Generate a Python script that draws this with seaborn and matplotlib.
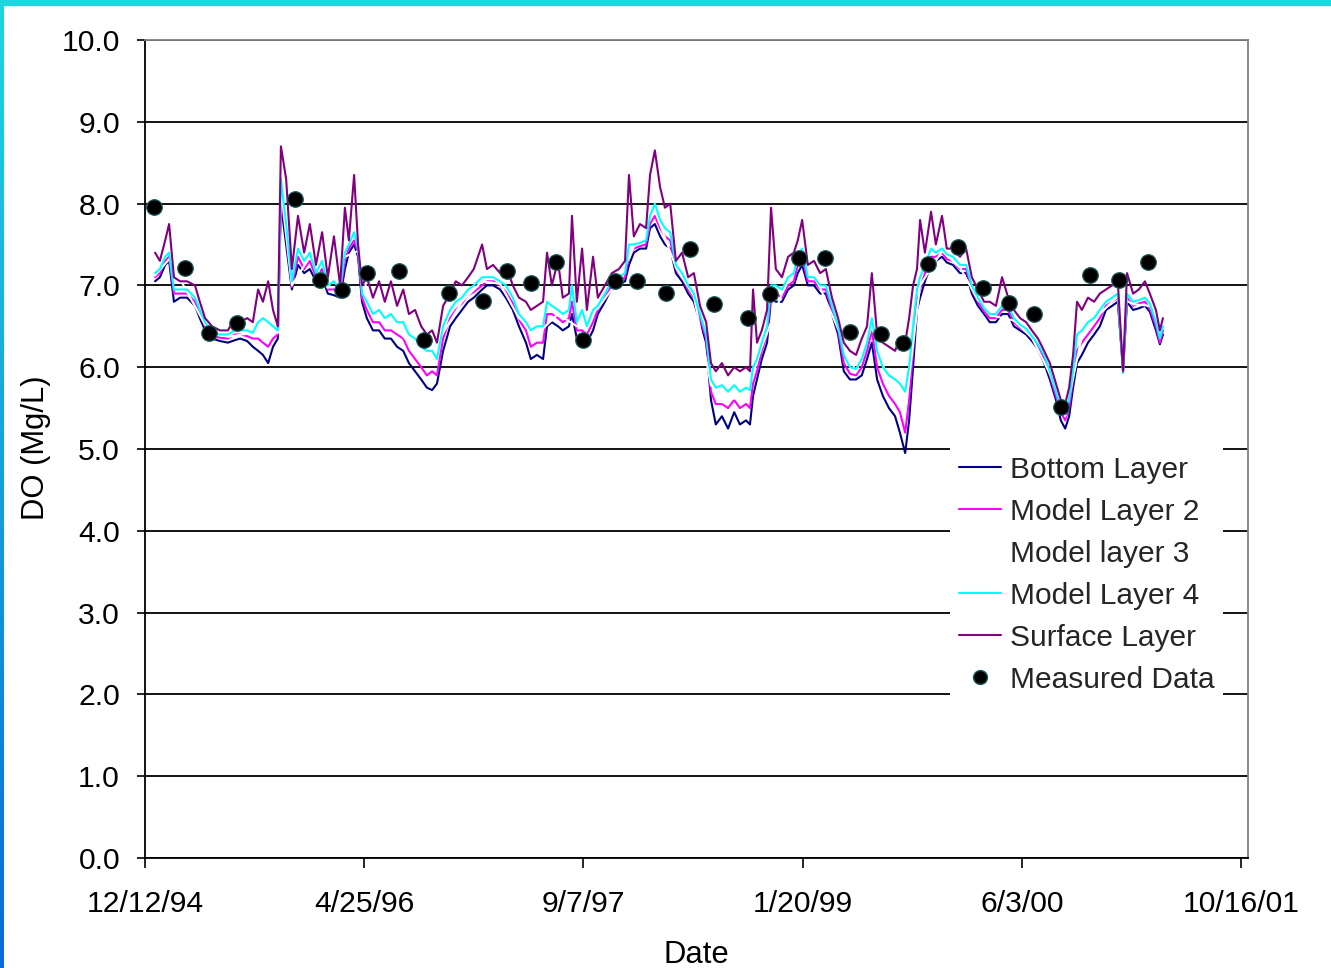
import numpy as np
import pandas as pd
import matplotlib
matplotlib.use("Agg")
import matplotlib.pyplot as plt
from matplotlib.lines import Line2D
from matplotlib.patches import Rectangle
from matplotlib.colors import LinearSegmentedColormap
from matplotlib.ticker import FuncFormatter
import matplotlib.dates as mdates
import seaborn as sns

START = "1994-12-12"

# model output sample days (days after 12/12/94)
model_days = [
    23, 34, 46, 55, 66, 80, 96, 114, 125, 137,
    153, 171, 189, 205, 217, 233, 246, 258, 269, 281,
    292, 303, 310, 322, 335, 349, 363, 376, 390, 404,
    417, 431, 445, 456, 465, 477, 486, 495, 506, 520,
    534, 547, 561, 575, 589, 602, 616, 630, 643, 655,
    666, 680, 696, 709, 723, 737, 750, 769, 780, 794,
    810, 823, 839, 853, 869, 880, 894, 908, 917, 928,
    942, 953, 967, 974, 985, 997, 1008, 1022, 1033, 1049,
    1065, 1081, 1095, 1104, 1115, 1129, 1143, 1152, 1163, 1175,
    1186, 1198, 1211, 1225, 1239, 1252, 1266, 1280, 1291, 1302,
    1316, 1330, 1344, 1357, 1371, 1380, 1387, 1396, 1407, 1419,
    1428, 1439, 1453, 1467, 1480, 1489, 1499, 1512, 1526, 1540,
    1553, 1567, 1581, 1594, 1608, 1622, 1635, 1647, 1658, 1670,
    1683, 1697, 1711, 1722, 1734, 1743, 1752, 1761, 1768, 1779,
    1793, 1804, 1818, 1829, 1843, 1859, 1873, 1886, 1900, 1914,
    1927, 1941, 1955, 1969, 1982, 1996, 2010, 2023, 2037, 2051,
    2064, 2078, 2089, 2099, 2108, 2117, 2126, 2137, 2151, 2165,
    2178, 2192, 2206, 2219, 2231, 2240, 2254, 2267, 2281, 2292,
    2306, 2315, 2322,
]

surface = [
    7.40, 7.30, 7.55, 7.75, 7.10, 7.05, 7.05, 7.00, 6.80, 6.60,
    6.50, 6.45, 6.45, 6.60, 6.55, 6.60, 6.55, 6.95, 6.80, 7.05,
    6.70, 6.50, 8.70, 8.30, 7.20, 7.85, 7.40, 7.75, 7.25, 7.65,
    7.10, 7.60, 7.00, 7.95, 7.55, 8.35, 7.50, 7.00, 7.10, 6.85,
    7.05, 6.80, 7.05, 6.75, 6.95, 6.65, 6.70, 6.50, 6.40, 6.45,
    6.30, 6.75, 6.90, 7.05, 7.00, 7.10, 7.20, 7.50, 7.20, 7.25,
    7.15, 7.25, 7.00, 6.85, 6.80, 6.70, 6.75, 6.80, 7.40, 7.00,
    7.30, 6.85, 6.90, 7.85, 6.80, 7.45, 6.70, 7.35, 6.85, 7.00,
    7.15, 7.20, 7.30, 8.35, 7.60, 7.75, 7.70, 8.35, 8.65, 8.20,
    7.95, 8.00, 7.30, 7.40, 7.10, 7.15, 6.75, 6.55, 6.05, 5.95,
    6.05, 5.90, 6.00, 5.95, 6.00, 5.95, 6.95, 6.30, 6.45, 6.70,
    7.95, 7.20, 7.10, 7.35, 7.40, 7.55, 7.80, 7.25, 7.30, 7.15,
    7.20, 6.85, 6.60, 6.30, 6.20, 6.15, 6.35, 6.50, 7.15, 6.40,
    6.30, 6.25, 6.20, 6.35, 6.30, 6.60, 7.00, 7.20, 7.80, 7.40,
    7.90, 7.50, 7.85, 7.45, 7.45, 7.35, 7.45, 7.10, 6.95, 6.80,
    6.80, 6.75, 7.10, 6.85, 6.70, 6.60, 6.55, 6.45, 6.35, 6.20,
    6.05, 5.80, 5.60, 5.55, 5.75, 6.15, 6.80, 6.70, 6.85, 6.80,
    6.90, 6.95, 7.00, 7.05, 5.95, 7.15, 6.90, 6.95, 7.05, 6.90,
    6.70, 6.45, 6.60,
]

layer4 = [
    7.15, 7.20, 7.35, 7.40, 6.95, 6.95, 6.95, 6.85, 6.70, 6.55,
    6.42, 6.40, 6.40, 6.45, 6.45, 6.45, 6.42, 6.55, 6.60, 6.55,
    6.50, 6.45, 8.30, 7.75, 7.05, 7.45, 7.30, 7.40, 7.15, 7.30,
    7.00, 7.05, 6.95, 7.40, 7.50, 7.65, 7.45, 6.90, 6.80, 6.65,
    6.70, 6.60, 6.65, 6.55, 6.55, 6.40, 6.35, 6.25, 6.20, 6.20,
    6.10, 6.50, 6.70, 6.80, 6.85, 6.95, 7.00, 7.10, 7.10, 7.10,
    7.05, 7.00, 6.85, 6.65, 6.55, 6.45, 6.50, 6.50, 6.80, 6.75,
    6.70, 6.65, 6.70, 7.00, 6.55, 6.70, 6.50, 6.70, 6.75, 6.90,
    7.05, 7.10, 7.15, 7.50, 7.50, 7.52, 7.55, 7.85, 8.00, 7.80,
    7.70, 7.65, 7.25, 7.15, 7.00, 6.90, 6.65, 6.40, 5.85, 5.75,
    5.78, 5.70, 5.78, 5.70, 5.75, 5.72, 6.00, 6.10, 6.30, 6.50,
    7.00, 7.00, 6.95, 7.10, 7.15, 7.35, 7.45, 7.10, 7.10, 7.00,
    7.00, 6.75, 6.50, 6.15, 6.00, 5.98, 6.10, 6.30, 6.60, 6.20,
    6.00, 5.90, 5.85, 5.80, 5.70, 6.00, 6.50, 6.95, 7.10, 7.25,
    7.45, 7.40, 7.45, 7.38, 7.35, 7.25, 7.25, 7.00, 6.85, 6.72,
    6.65, 6.65, 6.75, 6.75, 6.60, 6.52, 6.47, 6.38, 6.28, 6.15,
    5.95, 5.70, 5.50, 5.45, 5.60, 5.95, 6.40, 6.45, 6.55, 6.60,
    6.70, 6.80, 6.85, 6.90, 5.93, 6.90, 6.80, 6.82, 6.85, 6.78,
    6.55, 6.35, 6.50,
]

layer2 = [
    7.10, 7.15, 7.30, 7.35, 6.90, 6.90, 6.90, 6.80, 6.65, 6.50,
    6.38, 6.36, 6.35, 6.40, 6.40, 6.38, 6.35, 6.35, 6.30, 6.25,
    6.35, 6.40, 8.10, 7.60, 6.98, 7.35, 7.20, 7.30, 7.10, 7.20,
    6.95, 6.95, 6.90, 7.30, 7.45, 7.55, 7.40, 6.85, 6.70, 6.55,
    6.55, 6.45, 6.45, 6.40, 6.35, 6.20, 6.10, 6.00, 5.90, 5.95,
    5.90, 6.35, 6.60, 6.70, 6.78, 6.88, 6.92, 7.00, 7.05, 7.05,
    7.00, 6.92, 6.78, 6.58, 6.45, 6.25, 6.30, 6.30, 6.65, 6.65,
    6.60, 6.55, 6.60, 6.80, 6.45, 6.45, 6.40, 6.55, 6.70, 6.85,
    7.00, 7.05, 7.10, 7.35, 7.45, 7.48, 7.50, 7.75, 7.85, 7.70,
    7.60, 7.55, 7.20, 7.10, 6.95, 6.85, 6.60, 6.35, 5.70, 5.55,
    5.55, 5.50, 5.60, 5.50, 5.55, 5.50, 5.80, 5.95, 6.20, 6.40,
    6.90, 6.90, 6.85, 7.00, 7.05, 7.25, 7.35, 7.05, 7.05, 6.95,
    6.95, 6.70, 6.45, 6.05, 5.92, 5.90, 6.00, 6.20, 6.45, 6.00,
    5.80, 5.65, 5.55, 5.45, 5.20, 5.60, 6.20, 6.80, 6.95, 7.15,
    7.35, 7.35, 7.40, 7.32, 7.30, 7.20, 7.20, 6.95, 6.80, 6.68,
    6.60, 6.60, 6.70, 6.70, 6.55, 6.48, 6.43, 6.35, 6.25, 6.10,
    5.90, 5.65, 5.45, 5.35, 5.50, 5.85, 6.20, 6.30, 6.40, 6.50,
    6.60, 6.75, 6.80, 6.85, 5.95, 6.85, 6.75, 6.78, 6.80, 6.72,
    6.50, 6.30, 6.45,
]

bottom = [
    7.05, 7.10, 7.25, 7.30, 6.80, 6.85, 6.85, 6.75, 6.60, 6.45,
    6.35, 6.32, 6.30, 6.33, 6.35, 6.32, 6.25, 6.20, 6.15, 6.05,
    6.25, 6.35, 8.00, 7.50, 6.95, 7.25, 7.15, 7.20, 7.05, 7.10,
    6.90, 6.88, 6.85, 7.20, 7.40, 7.50, 7.35, 6.80, 6.60, 6.45,
    6.45, 6.35, 6.35, 6.25, 6.20, 6.05, 5.95, 5.85, 5.75, 5.72,
    5.80, 6.20, 6.50, 6.60, 6.70, 6.80, 6.85, 6.95, 7.00, 7.00,
    6.95, 6.85, 6.70, 6.50, 6.30, 6.10, 6.15, 6.10, 6.50, 6.55,
    6.50, 6.45, 6.50, 6.65, 6.35, 6.30, 6.30, 6.45, 6.65, 6.80,
    6.97, 7.02, 7.05, 7.25, 7.40, 7.45, 7.45, 7.70, 7.75, 7.60,
    7.50, 7.45, 7.15, 7.05, 6.90, 6.80, 6.55, 6.30, 5.60, 5.30,
    5.40, 5.25, 5.45, 5.30, 5.35, 5.30, 5.65, 5.85, 6.10, 6.30,
    6.85, 6.80, 6.80, 6.95, 7.00, 7.15, 7.25, 7.00, 7.00, 6.90,
    6.90, 6.65, 6.40, 5.95, 5.85, 5.85, 5.90, 6.10, 6.30, 5.85,
    5.65, 5.50, 5.40, 5.20, 4.95, 5.35, 6.00, 6.70, 6.85, 7.05,
    7.25, 7.30, 7.35, 7.28, 7.25, 7.15, 7.15, 6.90, 6.75, 6.65,
    6.55, 6.55, 6.65, 6.65, 6.50, 6.45, 6.40, 6.32, 6.22, 6.05,
    5.85, 5.60, 5.35, 5.25, 5.40, 5.75, 6.05, 6.15, 6.30, 6.40,
    6.50, 6.70, 6.75, 6.80, 5.97, 6.80, 6.70, 6.72, 6.75, 6.68,
    6.45, 6.28, 6.40,
]

layer3_days = [
    23, 55, 96, 137, 189, 233, 269, 303, 310, 335,
    376, 417, 456, 486, 520, 561, 602, 643, 680, 723,
    769, 810, 853, 894, 942, 985, 1033, 1081, 1115, 1163,
    1211, 1252, 1291, 1330, 1371, 1407, 1453, 1499, 1540, 1581,
    1622, 1658, 1697, 1734, 1768, 1818, 1859, 1900, 1941, 1982,
    2023, 2064, 2099, 2137, 2178, 2219, 2254, 2292, 2322,
]
layer3 = [
    7.12, 7.32, 6.92, 6.52, 6.37, 6.41, 6.45, 6.42, 8.20, 7.00,
    7.35, 6.97, 7.35, 7.42, 6.60, 6.55, 6.30, 6.05, 6.42, 6.80,
    7.05, 7.02, 6.60, 6.40, 6.65, 6.50, 6.72, 7.07, 7.47, 7.92,
    7.22, 6.87, 5.78, 5.60, 5.65, 6.25, 6.90, 7.40, 6.97, 6.47,
    5.94, 6.50, 5.78, 5.45, 7.00, 7.42, 7.22, 6.82, 6.62, 6.57,
    6.36, 5.92, 5.40, 6.38, 6.65, 6.87, 6.77, 6.75, 6.47,
]

measured_days = [
    21, 91, 146, 210, 342, 399, 449, 506, 579, 636,
    693, 771, 826, 880, 937, 999, 1072, 1122, 1188, 1243,
    1298, 1375, 1426, 1492, 1551, 1608, 1679, 1729, 1786, 1854,
    1911, 1971, 2028, 2089, 2156, 2222, 2288,
]
measured_do = [
    7.96, 7.21, 6.42, 6.54, 8.06, 7.07, 6.94, 7.15, 7.18, 6.33,
    6.91, 6.81, 7.17, 7.03, 7.28, 6.33, 7.05, 7.05, 6.91, 7.44,
    6.77, 6.60, 6.90, 7.33, 7.33, 6.43, 6.41, 6.30, 7.26, 7.47,
    6.97, 6.78, 6.65, 5.51, 7.13, 7.06, 7.29,
]

series_names = ["Bottom Layer", "Model Layer 2", "Model layer 3",
                "Model Layer 4", "Surface Layer"]
series_colors = ["#000080", "#FF00FF", "#FFFFFF", "#00FFFF", "#800080"]
x_tick_days = [0, 500, 1000, 1500, 2000, 2500]
y_ticks = [0, 1, 2, 3, 4, 5, 6, 7, 8, 9, 10]

for arr in (surface, layer4, layer2, bottom):
    assert len(arr) == len(model_days)
assert len(layer3) == len(layer3_days)
assert len(measured_do) == len(measured_days)

base = pd.Timestamp(START)


def to_dates(days):
    return base + pd.to_timedelta(np.asarray(days), unit="D")


frames = []
for name, days, vals in [
    ("Bottom Layer", model_days, bottom),
    ("Model Layer 2", model_days, layer2),
    ("Model layer 3", layer3_days, layer3),
    ("Model Layer 4", model_days, layer4),
    ("Surface Layer", model_days, surface),
]:
    frames.append(pd.DataFrame({"date": to_dates(days), "DO": vals, "series": name}))
df = pd.concat(frames, ignore_index=True)
meas = pd.DataFrame({"date": to_dates(measured_days), "DO": measured_do})

sns.set_theme(style="white")
plt.rcParams["font.family"] = ["Liberation Sans", "DejaVu Sans"]

W, H = 1331, 968
fig = plt.figure(figsize=(W / 100, H / 100), dpi=100)
fig.patch.set_facecolor("white")
ax = fig.add_axes([145 / W, 1 - 858 / H, (1248 - 145) / W, (858 - 40) / H])
ax.set_facecolor("white")

palette = dict(zip(series_names, series_colors))
sns.lineplot(data=df, x="date", y="DO", hue="series", hue_order=series_names,
             palette=palette, estimator=None, linewidth=1.5, ax=ax, legend=False)
sns.scatterplot(data=meas, x="date", y="DO", ax=ax, color="black", marker="o",
                s=125, edgecolor="#1d5a5a", linewidth=0.9, zorder=6, legend=False)

ax.set_ylim(0, 10)
ax.set_xlim(base, base + pd.Timedelta(days=2516))
ax.set_yticks(y_ticks)
ax.yaxis.set_major_formatter(FuncFormatter(lambda v, p: f"{v:.1f}"))
ax.set_xticks(to_dates(x_tick_days))


def date_fmt(v, p):
    d = mdates.num2date(v)
    return f"{d.month}/{d.day}/{d.year % 100:02d}"


ax.xaxis.set_major_formatter(FuncFormatter(date_fmt))

ax.set_axisbelow(True)
ax.yaxis.grid(True, color="black", linewidth=1.3)
ax.xaxis.grid(False)
for side in ("left", "bottom"):
    ax.spines[side].set_color("black")
    ax.spines[side].set_linewidth(1.3)
for side in ("top", "right"):
    ax.spines[side].set_color("#808080")
    ax.spines[side].set_linewidth(1.3)

ax.tick_params(axis="x", direction="out", length=7, width=1.2, pad=16,
               labelsize=21.7, colors="black", bottom=True)
ax.tick_params(axis="y", direction="out", length=6, width=1.2, pad=12,
               labelsize=21.7, colors="black", left=True)

ax.set_xlabel("Date", fontsize=22.3, color="black")
ax.set_ylabel("DO (Mg/L)", fontsize=22.3, color="black")
ax.xaxis.set_label_coords(0.5, -0.100)
ax.yaxis.set_label_coords(-0.085, 0.502)

handles = [Line2D([], [], color=c, lw=1.5) for c in series_colors]
handles.append(Line2D([], [], color="black", marker="o", ls="none", markersize=10,
                      markeredgecolor="#1d5a5a"))
labels = series_names + ["Measured Data"]
leg = ax.legend(handles, labels, loc="upper left", bbox_to_anchor=(0.730, 0.503),
                frameon=True, fancybox=False, edgecolor="none", facecolor="white",
                framealpha=1, fontsize=21.5, handlelength=1.4, handletextpad=0.3,
                labelspacing=0.47, borderpad=0.3, borderaxespad=0)
leg.set_zorder(10)

# slide frame
fig.add_artist(Rectangle((0, 1 - 5 / H), 1, 5 / H, transform=fig.transFigure,
                         color="#1ed6de", zorder=20))
gax = fig.add_axes([0, 0, 4 / W, 1])
grad = np.linspace(0, 1, 256).reshape(-1, 1)
gax.imshow(grad, aspect="auto",
           cmap=LinearSegmentedColormap.from_list("edge", ["#1ed6de", "#0a6ad8"]))
gax.axis("off")

fig.savefig("out.png", dpi=100)
